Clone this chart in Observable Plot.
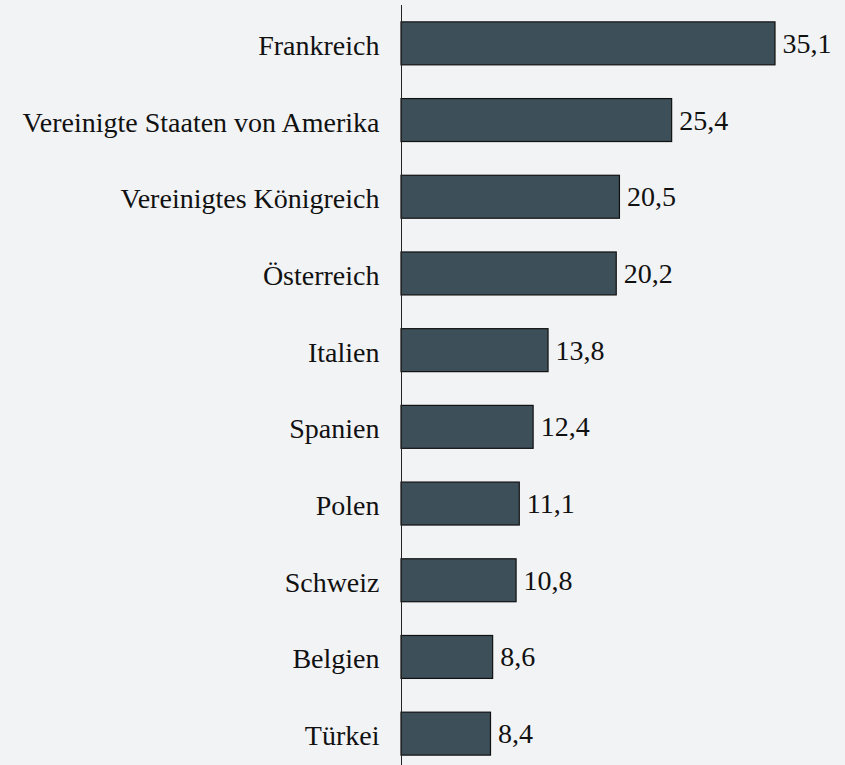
<!DOCTYPE html>
<html>
<head>
<meta charset="utf-8">
<script src="https://cdn.jsdelivr.net/npm/d3@7"></script>
<script src="https://cdn.jsdelivr.net/npm/@observablehq/plot@0.6"></script>
<style>
  html, body { margin: 0; padding: 0; background: #f2f3f5; }
  #chart svg { display: block; background: #f2f3f5; }
</style>
</head>
<body>
<div id="chart"></div>
<script>
const countries = ["Frankreich", "Vereinigte Staaten von Amerika", "Vereinigtes Königreich", "Österreich", "Italien", "Spanien", "Polen", "Schweiz", "Belgien", "Türkei"];
const values = [35.1, 25.4, 20.5, 20.2, 13.8, 12.4, 11.1, 10.8, 8.6, 8.4];

const data = countries.map((c, i) => ({country: c, value: values[i]}));
const fmt = v => v.toFixed(1).replace(".", ",");

const chart = Plot.plot({
  width: 845,
  height: 765,
  marginLeft: 401,
  marginRight: 70,
  marginTop: 5,
  marginBottom: 0,
  style: {background: "#f2f3f5", fontFamily: "'Liberation Serif', 'Times New Roman', serif", color: "#111"},
  x: {domain: [0, 35.1], axis: null},
  y: {domain: countries, range: [5, 772], paddingInner: 0.44, paddingOuter: 0.22, round: false, label: null},
  marks: [
    Plot.barX(data, {y: "country", x: "value", fill: "#3d4f59", stroke: "#111", strokeWidth: 1.2}),
    Plot.ruleX([0], {stroke: "#222", strokeWidth: 1}),
    Plot.axisY({tickSize: 0, tickPadding: 22, fontSize: 28, dy: 2, label: null, fill: "#111"}),
    Plot.text(data, {y: "country", x: "value", text: d => fmt(d.value), textAnchor: "start", dx: 7, fontSize: 28, fill: "#111"})
  ]
});
document.getElementById("chart").appendChild(chart);
</script>
</body>
</html>
